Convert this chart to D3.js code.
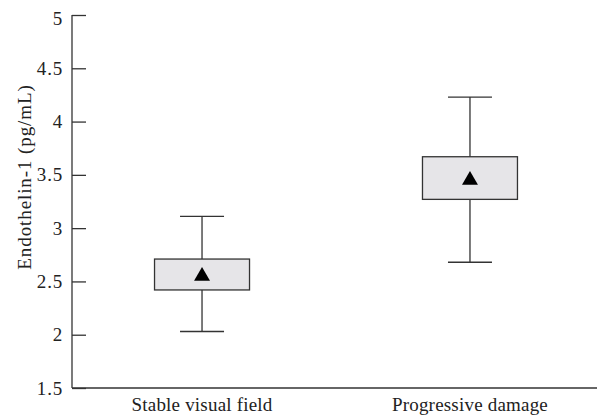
<!DOCTYPE html>
<html>
<head>
<meta charset="utf-8">
<script src="https://cdn.jsdelivr.net/npm/d3@7"></script>
<style>
  body { margin: 0; background: #fff; }
  text { font-family: "Liberation Serif", "DejaVu Serif", serif; fill: #222; }
</style>
</head>
<body>
<div id="chart"></div>
<script>
// data
var groups = ['Stable visual field', 'Progressive damage'];
var whiskerLow = [2.03, 2.68];
var boxLow = [2.42, 3.27];
var boxHigh = [2.71, 3.67];
var whiskerHigh = [3.11, 4.23];
var means = [2.55, 3.45];
var yTicks = [1.5, 2, 2.5, 3, 3.5, 4, 4.5, 5];

var w = 597, h = 419;
var margin = {left: 72, top: 15, bottom: 31};

var svg = d3.select('#chart').append('svg')
    .attr('width', w)
    .attr('height', h);

var y = d3.scaleLinear()
    .domain([1.5, 5])
    .range([h - margin.bottom, margin.top]);

var x = d3.scaleBand()
    .domain(groups)
    .range([margin.left, 600])
    .paddingInner(0.6455)
    .paddingOuter(0.308);

var stroke = '#333';

// y axis
var yAxis = svg.append('g')
    .attr('transform', 'translate(' + margin.left + ',0)')
    .call(d3.axisRight(y).tickValues(yTicks).tickSize(14).tickFormat(d3.format('')));
yAxis.select('.domain').remove();
yAxis.selectAll('.tick line').attr('stroke', stroke).attr('stroke-width', 1.3);
yAxis.selectAll('.tick text')
    .attr('x', -9)
    .attr('dy', function(d) {return d === 5 ? '0.5em' : '0.32em';})
    .attr('text-anchor', 'end')
    .style('font-size', '19px')
    .style('letter-spacing', '0.8px');

svg.append('line')
    .attr('x1', margin.left).attr('x2', margin.left)
    .attr('y1', y(5)).attr('y2', y(1.5))
    .attr('stroke', stroke).attr('stroke-width', 1.3);

// x axis
svg.append('line')
    .attr('x1', margin.left).attr('x2', w)
    .attr('y1', y(1.5)).attr('y2', y(1.5))
    .attr('stroke', stroke).attr('stroke-width', 1.3);

svg.selectAll('.xlabel')
    .data(groups)
    .enter()
    .append('text')
    .attr('class', 'xlabel')
    .attr('x', function(d) {return x(d) + x.bandwidth() / 2;})
    .attr('y', 411)
    .attr('text-anchor', 'middle')
    .style('font-size', '19px')
    .style('letter-spacing', '0.2px')
    .text(function(d) {return d;});

svg.append('text')
    .attr('transform', 'translate(31,177) rotate(-90)')
    .attr('text-anchor', 'middle')
    .style('font-size', '19px')
    .style('letter-spacing', '0.9px')
    .text('Endothelin-1 (pg/mL)');

// boxes
var capW = 44;
var g = svg.selectAll('.box')
    .data(groups)
    .enter()
    .append('g')
    .attr('class', 'box');

function cx(d) {return x(d) + x.bandwidth() / 2;}

g.append('line')
    .attr('x1', cx).attr('x2', cx)
    .attr('y1', function(d, i) {return y(whiskerHigh[i]);})
    .attr('y2', function(d, i) {return y(whiskerLow[i]);})
    .attr('stroke', stroke).attr('stroke-width', 1.3);

g.append('line')
    .attr('x1', function(d) {return cx(d) - capW / 2;})
    .attr('x2', function(d) {return cx(d) + capW / 2;})
    .attr('y1', function(d, i) {return y(whiskerHigh[i]);})
    .attr('y2', function(d, i) {return y(whiskerHigh[i]);})
    .attr('stroke', stroke).attr('stroke-width', 1.3);

g.append('line')
    .attr('x1', function(d) {return cx(d) - capW / 2;})
    .attr('x2', function(d) {return cx(d) + capW / 2;})
    .attr('y1', function(d, i) {return y(whiskerLow[i]);})
    .attr('y2', function(d, i) {return y(whiskerLow[i]);})
    .attr('stroke', stroke).attr('stroke-width', 1.3);

g.append('rect')
    .attr('x', function(d) {return x(d);})
    .attr('width', x.bandwidth())
    .attr('y', function(d, i) {return y(boxHigh[i]);})
    .attr('height', function(d, i) {return y(boxLow[i]) - y(boxHigh[i]);})
    .attr('fill', '#e6e5e8')
    .attr('stroke', stroke).attr('stroke-width', 1.3);

var tri = d3.symbol().type(d3.symbolTriangle).size(110);
g.append('path')
    .attr('d', tri)
    .attr('transform', function(d, i) {return 'translate(' + cx(d) + ',' + y(means[i]) + ')';})
    .attr('fill', '#000');
</script>
</body>
</html>
